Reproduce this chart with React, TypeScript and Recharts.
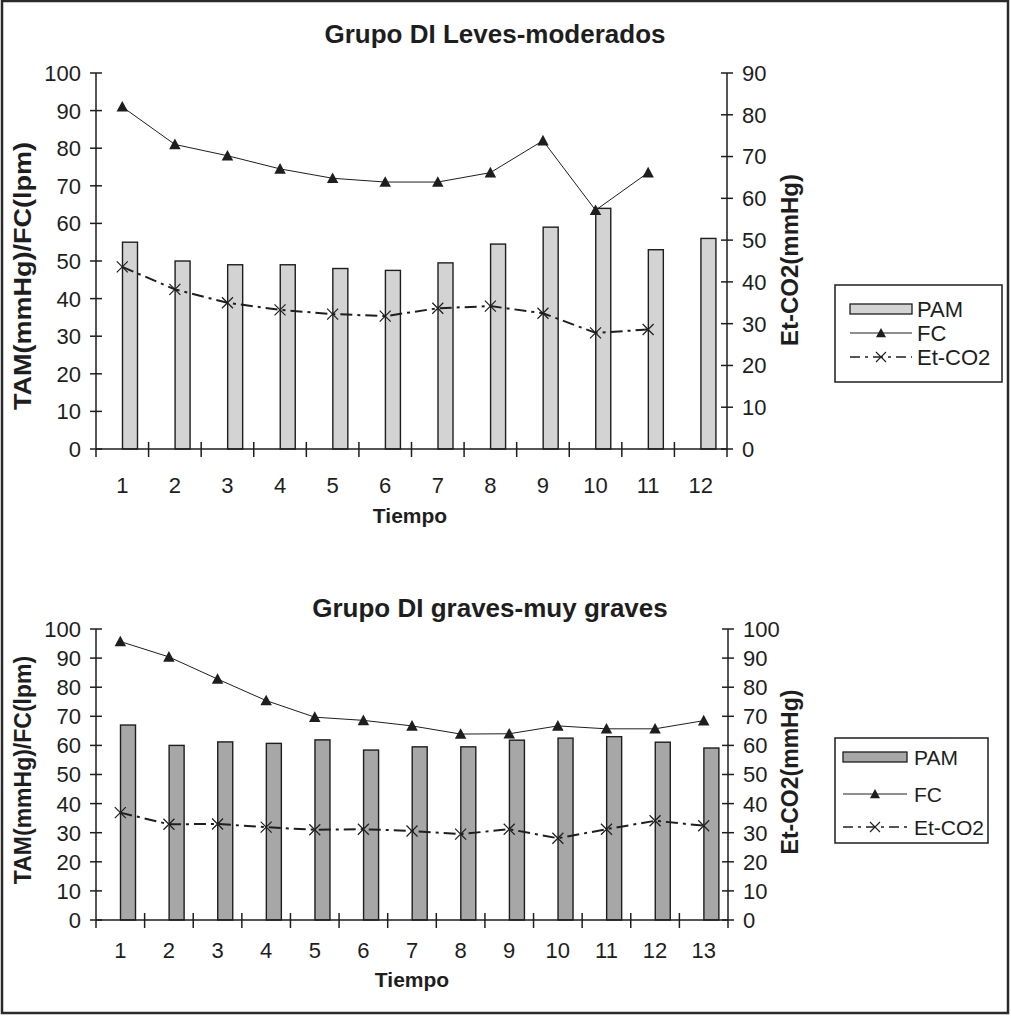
import { Bar, ComposedChart, Line, XAxis, YAxis } from 'recharts';

// Grupo DI leves-moderados
const tiempoLeves = ['1', '2', '3', '4', '5', '6', '7', '8', '9', '10', '11', '12'];
const pamLeves = [55, 50, 49, 49, 48, 47.5, 49.5, 54.5, 59, 64, 53, 56];
const fcLeves = [91, 81, 78, 74.5, 72, 71, 71, 73.5, 82, 63.5, 73.5, null];
const etco2Leves = [43.6, 38.2, 35, 33.3, 32.3, 31.8, 33.7, 34.2, 32.5, 27.8, 28.6, null];

// Grupo DI graves-muy graves
const tiempoGraves = ['1', '2', '3', '4', '5', '6', '7', '8', '9', '10', '11', '12', '13'];
const pamGraves = [67, 60, 61.2, 60.7, 61.9, 58.4, 59.5, 59.5, 61.8, 62.5, 63, 61.1, 59.1];
const fcGraves = [95.7, 90.4, 82.8, 75.4, 69.7, 68.6, 66.7, 63.9, 64, 66.7, 65.7, 65.7, 68.5];
const etco2Graves = [36.9, 32.9, 33, 31.9, 31, 31.2, 30.6, 29.5, 31.2, 28.1, 31.2, 34.1, 32.4];

const leftTicks = [0, 10, 20, 30, 40, 50, 60, 70, 80, 90, 100];
const rightTicksLeves = [0, 10, 20, 30, 40, 50, 60, 70, 80, 90];
const rightTicksGraves = [0, 10, 20, 30, 40, 50, 60, 70, 80, 90, 100];

const INK = '#1e1e1e';
const FONT = '"Liberation Sans", Arial, Helvetica, sans-serif';
const PLOT_LEFT = 96;
const ETCO2_DASH = '12 5 3 5';

const buildRows = (tiempo: string[], pam: number[], fc: (number | null)[], etco2: (number | null)[]) =>
    tiempo.map((t, i) => ({ tiempo: t, pam: pam[i], fc: fc[i], etco2: etco2[i] }));

function triangle(cx: number, cy: number, w: number) {
    const h = w * 0.92;
    return `M${cx},${cy - h * 0.55} L${cx + w / 2},${cy + h * 0.45} L${cx - w / 2},${cy + h * 0.45} Z`;
}

function TriangleDot(props: any) {
    const { cx, cy } = props;
    if (cx == null || cy == null || Number.isNaN(cy)) return <g />;
    return <path d={triangle(cx, cy, 11.5)} fill={INK} />;
}

function CrossDot(props: any) {
    const { cx, cy } = props;
    if (cx == null || cy == null || Number.isNaN(cy)) return <g />;
    const r = 5.5;
    return (
        <path d={`M${cx - r},${cy - r} L${cx + r},${cy + r} M${cx - r},${cy + r} L${cx + r},${cy - r}`} stroke={INK} strokeWidth={1.2} fill="none" />
    );
}

// bars sit in the right half of each category, like the Excel original
const shiftedBar = (fill: string) => (p: any) =>
    p.height > 0 ? (
        <rect x={p.x + p.width / 2} y={p.y} width={p.width} height={p.height} fill={fill} stroke={INK} strokeWidth={1.4} />
    ) : (
        <g />
    );

function XTick({ x, y, payload, index, bw, labelDy, last }: any) {
    const half = bw / 2;
    return (
        <g>
            <line x1={x - half} x2={x - half} y1={index === 0 ? y : y - 7} y2={y + 8} stroke={INK} strokeWidth={1.5} />
            {index === last && <line x1={x + half} x2={x + half} y1={y} y2={y + 8} stroke={INK} strokeWidth={1.5} />}
            <text x={x} y={y + labelDy} textAnchor="middle" fontSize={22} fontFamily={FONT} fill={INK}>
                {payload.value}
            </text>
        </g>
    );
}

function YTick({ x, y, payload, side }: any) {
    const left = side === 'left';
    return (
        <g>
            <line x1={x - 6} x2={x + 6} y1={y} y2={y} stroke={INK} strokeWidth={1.5} />
            <text x={left ? x - 15 : x + 15} y={y} dy="0.36em" textAnchor={left ? 'end' : 'start'} fontSize={22} fontFamily={FONT} fill={INK}>
                {payload.value}
            </text>
        </g>
    );
}

function Panel({
    rows,
    height,
    plotTop,
    plotBottom,
    plotRight,
    rightTicks,
    barFill,
    labelDy,
}: {
    rows: Record<string, unknown>[];
    height: number;
    plotTop: number;
    plotBottom: number;
    plotRight: number;
    rightTicks: number[];
    barFill: string;
    labelDy: number;
}) {
    const rightWidth = 100;
    const xAxisHeight = height - plotBottom;
    const bw = (plotRight - PLOT_LEFT) / rows.length;
    return (
        <ComposedChart
            width={1011}
            height={height}
            data={rows}
            margin={{ top: plotTop, right: 1011 - plotRight - rightWidth, bottom: 0, left: 0 }}
        >
            <XAxis
                dataKey="tiempo"
                height={xAxisHeight}
                interval={0}
                tickSize={0}
                tickMargin={0}
                tickLine={false}
                axisLine={{ stroke: INK, strokeWidth: 1.5 }}
                tick={(p: any) => <XTick {...p} bw={bw} labelDy={labelDy} last={rows.length - 1} />}
            />
            <YAxis
                yAxisId="left"
                width={PLOT_LEFT}
                domain={[0, 100]}
                ticks={leftTicks}
                interval={0}
                tickSize={0}
                tickMargin={0}
                tickLine={false}
                axisLine={{ stroke: INK, strokeWidth: 1.5 }}
                tick={(p: any) => <YTick {...p} side="left" />}
            />
            <YAxis
                yAxisId="right"
                orientation="right"
                width={rightWidth}
                domain={[0, rightTicks[rightTicks.length - 1]]}
                ticks={rightTicks}
                interval={0}
                tickSize={0}
                tickMargin={0}
                tickLine={false}
                axisLine={{ stroke: INK, strokeWidth: 1.5 }}
                tick={(p: any) => <YTick {...p} side="right" />}
            />
            <Bar yAxisId="left" dataKey="pam" name="PAM" barSize={15} shape={shiftedBar(barFill)} isAnimationActive={false} />
            <Line
                yAxisId="left"
                type="linear"
                dataKey="fc"
                name="FC"
                stroke={INK}
                strokeWidth={1}
                dot={TriangleDot}
                activeDot={false}
                isAnimationActive={false}
            />
            <Line
                yAxisId="right"
                type="linear"
                dataKey="etco2"
                name="Et-CO2"
                stroke={INK}
                strokeWidth={2}
                strokeDasharray={ETCO2_DASH}
                dot={CrossDot}
                activeDot={false}
                isAnimationActive={false}
            />
        </ComposedChart>
    );
}

function LegendBox({ x, y, w, h, rowYs, iconX, iconW, textX, fontSize, barFill }: any) {
    const mid = iconX + iconW / 2;
    return (
        <g fontFamily={FONT} fill={INK}>
            <rect x={x} y={y} width={w} height={h} fill="#fff" stroke={INK} strokeWidth={1.5} />
            <rect x={iconX} y={rowYs[0] - 5} width={iconW} height={10} fill={barFill} stroke={INK} strokeWidth={1.3} />
            <text x={textX} y={rowYs[0]} dy="0.36em" fontSize={fontSize}>PAM</text>
            <line x1={iconX} x2={iconX + iconW} y1={rowYs[1]} y2={rowYs[1]} stroke={INK} strokeWidth={1} />
            <path d={triangle(mid, rowYs[1], 10)} fill={INK} />
            <text x={textX} y={rowYs[1]} dy="0.36em" fontSize={fontSize}>FC</text>
            <line x1={iconX} x2={iconX + iconW} y1={rowYs[2]} y2={rowYs[2]} stroke={INK} strokeWidth={1.6} strokeDasharray="10 5 3 5" />
            <path
                d={`M${mid - 5},${rowYs[2] - 5} L${mid + 5},${rowYs[2] + 5} M${mid - 5},${rowYs[2] + 5} L${mid + 5},${rowYs[2] - 5}`}
                stroke={INK}
                strokeWidth={1.1}
            />
            <text x={textX} y={rowYs[2]} dy="0.36em" fontSize={fontSize}>Et-CO2</text>
        </g>
    );
}

export default function App() {
    const rowsLeves = buildRows(tiempoLeves, pamLeves, fcLeves, etco2Leves);
    const rowsGraves = buildRows(tiempoGraves, pamGraves, fcGraves, etco2Graves);

    return (
        <div style={{ position: 'absolute', left: 0, top: 0, width: 1011, height: 1016, background: '#fff', overflow: 'hidden' }}>
            <div style={{ position: 'absolute', left: 0, top: 0 }}>
                <Panel rows={rowsLeves} height={545} plotTop={73} plotBottom={449} plotRight={727} rightTicks={rightTicksLeves} barFill="#d3d3d3" labelDy={44} />
            </div>
            <div style={{ position: 'absolute', left: 0, top: 545 }}>
                <Panel rows={rowsGraves} height={471} plotTop={84} plotBottom={375} plotRight={728} rightTicks={rightTicksGraves} barFill="#a7a7a7" labelDy={38} />
            </div>
            <svg width={1011} height={1016} style={{ position: 'absolute', left: 0, top: 0, pointerEvents: 'none' }}>
                <g fontFamily={FONT} fill={INK} fontWeight="bold" textAnchor="middle">
                    <text x={495} y={43} fontSize={26}>Grupo DI Leves-moderados</text>
                    <text x={490} y={617} fontSize={26}>Grupo DI graves-muy graves</text>
                    <text x={410} y={523} fontSize={21}>Tiempo</text>
                    <text x={412} y={987} fontSize={21}>Tiempo</text>
                    <text transform="translate(23,276) rotate(-90)" dy="0.36em" fontSize={23} textLength={268} lengthAdjust="spacingAndGlyphs">
                        TAM(mmHg)/FC(lpm)
                    </text>
                    <text transform="translate(23,770) rotate(-90)" dy="0.36em" fontSize={23}>TAM(mmHg)/FC(lpm)</text>
                    <text transform="translate(790,260) rotate(-90)" dy="0.36em" fontSize={23} textLength={172} lengthAdjust="spacingAndGlyphs">
                        Et-CO2(mmHg)
                    </text>
                    <text transform="translate(790,772) rotate(-90)" dy="0.36em" fontSize={23}>Et-CO2(mmHg)</text>
                </g>
                <LegendBox x={835} y={285} w={167} h={97} rowYs={[309, 333, 357]} iconX={850} iconW={62} textX={917} fontSize={22} barFill="#d3d3d3" />
                <LegendBox x={835} y={738} w={153} h={105} rowYs={[757, 794, 827]} iconX={843} iconW={64} textX={914} fontSize={21} barFill="#a7a7a7" />
                <rect x={2} y={1} width={1006} height={1012} fill="none" stroke="#2a2a2a" strokeWidth={2.5} />
            </svg>
        </div>
    );
}
